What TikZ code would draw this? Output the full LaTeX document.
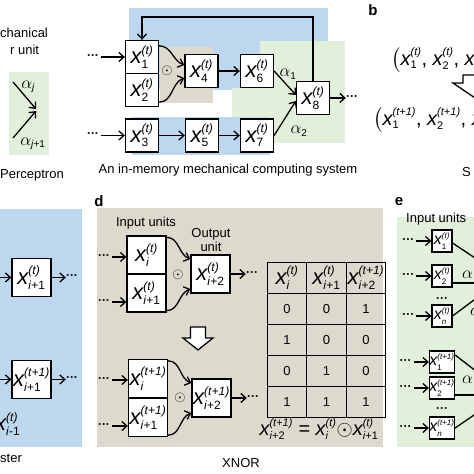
\documentclass[tikz,border=0pt]{standalone}
\usepackage{amsmath}
\usepackage{fontspec}
\setmainfont{Liberation Sans}
\usetikzlibrary{arrows.meta,matrix}
\DeclareMathSizes{22}{22}{12}{9}
\DeclareMathSizes{20}{20}{11}{8}
\DeclareMathSizes{17}{17}{10}{7}
\DeclareMathSizes{16}{16}{8}{6}
\definecolor{memblue}{RGB}{189,215,238}
\definecolor{xnortan}{RGB}{221,217,204}
\definecolor{percgreen}{RGB}{226,239,218}
\newcommand{\xs}[2]{$\textit{x}^{\text{\textit{(#2)}}}_{\text{#1}}$}
\newcommand{\etc}{\textbf{···}}
\tikzset{
	unit/.style={draw, line width=1.3pt, fill=white, inner sep=0pt, minimum width=33pt, minimum height=33pt, font=\fontsize{22}{22}\selectfont},
	dunit/.style={unit, minimum width=39pt, minimum height=38pt},
	eunit/.style={unit, line width=1.1pt, minimum width=20pt, minimum height=22pt, font=\fontsize{16}{16}\selectfont},
	arr/.style={line width=1.3pt, -{Straight Barb[length=5pt, width=9pt]}},
	link/.style={line width=1.3pt},
	lbl/.style={font=\fontsize{13}{14}\selectfont, inner sep=0pt},
	tag/.style={font=\fontsize{15}{15}\selectfont\bfseries, inner sep=0pt},
	dots/.style={font=\fontsize{12}{12}\selectfont, inner sep=0pt},
	big/.style={font=\fontsize{20}{20}\selectfont, inner sep=0pt},
	alf/.style={font=\fontsize{17}{17}\selectfont, inner sep=0pt},
	hollow/.style={draw, line width=1.3pt, fill=white, line join=miter},
}
\begin{document}
\begin{tikzpicture}[x=1pt, y=-1pt]
			%%%%% START %%%%%
			\useasboundingbox (0,0) rectangle (474,474);
			\clip (0,0) rectangle (474,474);
			
			% backgrounds
			\fill[memblue] (129,8) rectangle (328,45);
			\fill[memblue] (129,8) rectangle (260,90);
			\fill[percgreen] (260,41) rectangle (345,143);
			\fill[percgreen] (232,88) rectangle (345,143);
			\fill[xnortan] (160,47) rectangle (213,103);
			\fill[memblue] (132,117) rectangle (270,155);
			\fill[percgreen] (9,72) rectangle (49,155);
			\fill[memblue] (0,209) rectangle (82,447);
			\fill[xnortan] (97,208) rectangle (383,447);
			\fill[percgreen] (397,217) rectangle (474,447);
			
			% perceptron unit
			\node[lbl, anchor=west] (pt1) at (0,33) {chanical};
			\node[lbl, anchor=west] (pt2) at (10,50) {r unit};
			\coordinate (pj) at (36,110);
			\coordinate (pa) at (13,82);
			\coordinate (pb) at (13,138);
			\draw[arr] (pa) -- ([yshift=1pt]pj);
			\draw[arr] (pb) -- ([yshift=-1pt]pj);
			\node[alf] (pal) at (28,87) {$\alpha_{\textit{j}}$};
			\node[alf] (pbl) at (33,144) {$\alpha_{\text{\textit{j}+1}}$};
			\node[lbl, anchor=west] (pcap) at (0,175) {Perceptron};
			
			% in-memory computing system
			\node[unit] (x1) at (142,57) {\xs{1}{t}};
			\node[unit] (x2) at (142,90) {\xs{2}{t}};
			\node[unit] (x4) at (201.5,71) {\xs{4}{t}};
			\node[unit] (x6) at (257,71) {\xs{6}{t}};
			\node[unit] (x3) at (142,135.5) {\xs{3}{t}};
			\node[unit] (x5) at (202,135.5) {\xs{5}{t}};
			\node[unit] (x7) at (257,135.5) {\xs{7}{t}};
			\node[unit] (x8) at (313,98) {\xs{8}{t}};
			\node[font=\fontsize{14}{14}\selectfont, inner sep=0pt] (aop) at (167,71) {$\odot$};
			\node[dots] (ain1) at (93,57) {\etc};
			\node[dots] (ain3) at (93,135.5) {\etc};
			\node[dots] (aout) at (352,98) {\etc};
			\draw[arr, shorten <=2pt] (ain1) -- (x1);
			\draw[arr, shorten <=2pt] (ain3) -- (x3);
			\draw[arr] ([yshift=-6pt]x1.north east) to[out=0, in=160] ([yshift=6pt]x4.west);
			\draw[arr] ([yshift=5pt]x2.south east) to[out=0, in=-160] ([yshift=-7pt]x4.west);
			\draw[arr] (x4) -- (x6);
			\draw[arr] (x3) -- (x5);
			\draw[arr] (x5) -- (x7);
			\draw[arr] (x6.east) -- ([yshift=3pt]x8.west);
			\draw[arr] (x7.east) -- ([yshift=-3pt]x8.west);
			\draw[arr] (x8) -- (aout);
			\coordinate (fb) at (142,17);
			\draw[arr] (x8.north) |- (fb) -- (x1.north);
			\node[alf] (al1) at (288,74) {$\alpha_{\text{1}}$};
			\node[alf] (al2) at (299,131) {$\alpha_{\text{2}}$};
			\node[lbl] (acap) at (228,170) {An in-memory mechanical computing system};
			
			% b
			\node[tag] (b) at (373,10) {b};
			\node[big, anchor=west] (bt) at (391,60) {$\bigl($\xs{1}{t}, \xs{2}{t}, \xs{3}{t}};
			\node[big, anchor=west] (bt1) at (373,120) {$\bigl($\xs{1}{t+1}, \xs{2}{t+1}, \xs{3}{t+1}};
			\draw[hollow] (463,75) -- (493,75) -- (493,83) -- (503,83) -- (478,100) -- (453,83) -- (463,83) -- cycle;
			\node[lbl, anchor=west] (bcap) at (462,172) {S};
			
			% register
			\node[dunit] (cr) at (31.5,277.5) {\xs{\textit{i}+1}{t}};
			\node[dunit] (cr1) at (31.5,379.5) {\xs{\textit{i}+1}{t+1}};
			\coordinate (crin) at (-4,277.5);
			\coordinate (crin1) at (-4,379.5);
			\node[dots] (crout) at (72,277.5) {\etc};
			\node[dots] (crout1) at (72,379.5) {\etc};
			\draw[arr] (crin) -- (cr);
			\draw[arr] (crin1) -- (cr1);
			\draw[arr] (cr) -- (crout);
			\draw[arr] (cr1) -- (crout1);
			\node[font=\fontsize{22}{22}\selectfont, inner sep=0pt, anchor=west] (crm) at (-5,424) {\xs{\textit{i}-1}{t}};
			\node[lbl, anchor=west] (ccap) at (0,458) {ster};
			
			% d: XNOR
			\node[tag] (d) at (99,201) {d};
			\node[lbl] (din) at (146,223) {Input units};
			\node[lbl, align=center] (dout) at (211,240) {Output\\unit};
			\node[dunit] (di) at (146.5,255) {\xs{\textit{i}}{t}};
			\node[dunit] (di1) at (146.5,293) {\xs{\textit{i}+1}{t}};
			\node[dunit] (di2) at (210.5,274) {\xs{\textit{i}+2}{t}};
			\node[font=\fontsize{14}{14}\selectfont, inner sep=0pt] (dop) at (178,275) {$\odot$};
			\node[dots] (dini) at (104,257) {\etc};
			\node[dots] (dini1) at (104,302) {\etc};
			\node[dots] (dtt) at (252,274) {\etc};
			\draw[arr, shorten <=2pt] (dini) -- (dini -| di.west);
			\draw[arr, shorten <=2pt] (dini1) -- (dini1 -| di1.west);
			\draw[arr] ([yshift=-2pt]di.north east) to[out=0, in=160] ([yshift=15pt]di2.west);
			\draw[arr] ([yshift=2pt]di1.south east) to[out=0, in=-160] ([yshift=-15pt]di2.west);
			\draw[arr] (di2) -- (dtt);
			
			\draw[hollow] (190.5,327) -- (205.5,327) -- (205.5,338) -- (213,338) -- (198,350) -- (183,338) -- (190.5,338) -- cycle;
			
			\node[dunit] (dj) at (148,378.5) {\xs{\textit{i}}{t+1}};
			\node[dunit] (dj1) at (148,417.5) {\xs{\textit{i}+1}{t+1}};
			\node[dunit] (dj2) at (211.5,398) {\xs{\textit{i}+2}{t+1}};
			\node[font=\fontsize{14}{14}\selectfont, inner sep=0pt] (djop) at (180,398) {$\odot$};
			\node[dots] (djni) at (104,380) {\etc};
			\node[dots] (djni1) at (104,426) {\etc};
			\node[dots] (djtt) at (253,398) {\etc};
			\draw[arr, shorten <=2pt] (djni) -- (djni -| dj.west);
			\draw[arr, shorten <=2pt] (djni1) -- (djni1 -| dj1.west);
			\draw[arr] ([yshift=-2pt]dj.north east) to[out=0, in=160] ([yshift=15pt]dj2.west);
			\draw[arr] ([yshift=2pt]dj1.south east) to[out=0, in=-160] ([yshift=-15pt]dj2.west);
			\draw[arr] (dj2) -- (djtt);
			
			\matrix (tt) [matrix of nodes, anchor=north west, column sep=-1.3pt, row sep=-1.3pt,
				nodes={draw, line width=1.3pt, minimum width=39.5pt, minimum height=31pt, inner sep=0pt, anchor=center, font=\fontsize{13}{13}\selectfont},
				row 1/.style={nodes={font=\fontsize{22}{22}\selectfont}}] at (263,258) {
				\xs{\textit{i}}{t} & \xs{\textit{i}+1}{t} & \xs{\textit{i}+2}{t+1} \\
				0 & 0 & 1 \\
				1 & 0 & 0 \\
				0 & 1 & 0 \\
				1 & 1 & 1 \\
			};
			\node[big] (dfm) at (319,429) {\xs{\textit{i}+2}{t+1} = \xs{\textit{i}}{t}$\odot$\xs{\textit{i}+1}{t}};
			\node[lbl] (dcap) at (241,463) {XNOR};
			
			% e
			\node[tag] (e) at (399,202) {e};
			\node[lbl, anchor=west] (ein) at (406,219) {Input units};
			\node[eunit] (e1) at (442,241) {\xs{1}{t}};
			\node[eunit] (e2) at (442,276) {\xs{2}{t}};
			\node[dots] (edt) at (442,300) {\etc};
			\node[eunit] (en) at (442,316) {\xs{\textit{n}}{t}};
			\node[eunit] (f1) at (442,362) {\xs{1}{t+1}};
			\node[eunit] (f2) at (442,388) {\xs{2}{t+1}};
			\node[dots] (fdt) at (442,410) {\etc};
			\node[eunit] (fn) at (442,428) {\xs{\textit{n}}{t+1}};
			\foreach \u in {e1,e2,en,f1,f2,fn} {
				\node[dots, anchor=east] (\u-in) at ([xshift=-17pt]\u.west) {\etc};
				\draw[arr, shorten <=2pt] (\u-in) -- (\u);
			}
			\coordinate (eo1) at (490,268);
			\coordinate (eo2) at (490,283);
			\coordinate (eon) at (490,288);
			\coordinate (fo1) at (490,382);
			\coordinate (fo2) at (490,395);
			\coordinate (fon) at (490,404);
			\draw[link] ([yshift=-2pt]e1.east) -- (eo1);
			\draw[link] ([yshift=-7pt]e2.east) -- (eo2);
			\draw[link] (en.east) -- (eon);
			\draw[link] ([yshift=7pt]f1.east) -- (fo1);
			\draw[link] ([yshift=-7pt]f2.east) -- (fo2);
			\draw[link] (fn.east) -- (fon);
			\node[alf, anchor=west] (eal) at (462,275) {$\alpha$};
			\node[alf, anchor=west] (ealn) at (470,312) {$\alpha$};
			\node[alf, anchor=west] (fal) at (462,380) {$\alpha$};
			
			%%%%% END %%%%%
\end{tikzpicture}
\end{document}
